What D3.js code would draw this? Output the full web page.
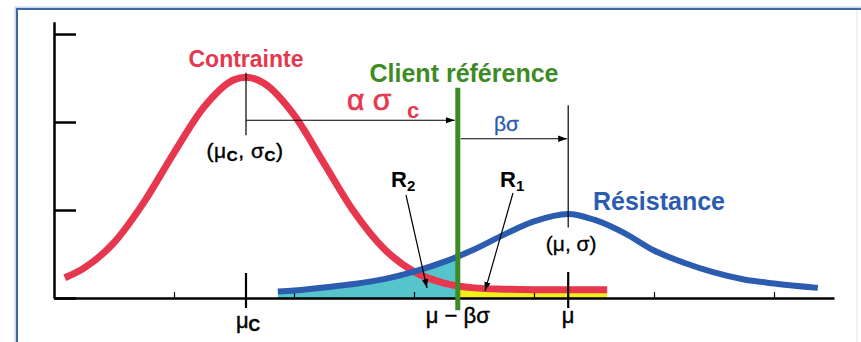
<!DOCTYPE html>
<html>
<head>
<meta charset="utf-8">
<script src="https://cdn.jsdelivr.net/npm/d3@7"></script>
<style>
  body { margin: 0; background: #fff; }
  svg { display: block; font-family: "Liberation Sans", Arial, sans-serif; }
</style>
</head>
<body>
<svg id="chart" width="861" height="342"></svg>
<script>
// curves (x: stress/strength units, y: density units)
const contrainteX = [0.18, 0.5, 1.0, 1.5, 2.0, 2.5, 3.0, 3.2, 3.5, 4.0, 4.5, 5.0, 5.5, 6.0, 6.5, 7.0, 7.5, 8.0, 8.5, 9.22];
const contrainteY = [0.23, 0.34, 0.63, 1.09, 1.65, 2.17, 2.48, 2.51, 2.44, 2.08, 1.53, 0.98, 0.56, 0.30, 0.17, 0.115, 0.10, 0.095, 0.095, 0.095];
const resistanceX = [3.73, 4.0, 4.5, 5.0, 5.5, 6.0, 6.5, 7.0, 7.5, 8.0, 8.57, 9.0, 9.5, 10.0, 10.5, 11.0, 11.5, 12.0, 12.73];
const resistanceY = [0.075, 0.085, 0.12, 0.16, 0.215, 0.30, 0.41, 0.55, 0.72, 0.87, 0.955, 0.89, 0.74, 0.54, 0.40, 0.29, 0.21, 0.165, 0.115];

const muC = 3.2;     // moyenne contrainte
const ref = 6.73;    // client référence (mu - beta sigma)
const mu = 8.57;     // moyenne résistance
const minorTicks = [2, 4, 6, 8, 10, 12];
const yTicks = [0, 1, 2, 3];

const red = "#e6374f", blue = "#2b5cb0", green = "#3d8b25", cyan = "#55c4cb", yellow = "#f4ee1a";

const svg = d3.select("#chart");
const x = d3.scaleLinear([0, 13], [54, 834]);
const y = d3.scaleLinear([0, 3.14], [298, 21.7]);

const contrainte = contrainteX.map((v, i) => [v, contrainteY[i]]);
const resistance = resistanceX.map((v, i) => [v, resistanceY[i]]);

// frame
svg.append("rect").attr("x", 17).attr("y", 9).attr("width", 900).attr("height", 400)
    .attr("fill", "none").attr("stroke", "#c9d8ee").attr("stroke-width", 5);
svg.append("rect").attr("x", 17).attr("y", 9).attr("width", 900).attr("height", 400)
    .attr("fill", "#fff").attr("stroke", "#3f6aa6").attr("stroke-width", 2);
svg.append("line").attr("x1", 857).attr("x2", 857).attr("y1", 10).attr("y2", 342)
    .attr("stroke", "#e2e6ee").attr("stroke-width", 1);

const defs = svg.append("defs");
defs.append("marker").attr("id", "arrow").attr("viewBox", "0 0 10 10")
    .attr("refX", 10).attr("refY", 5).attr("markerWidth", 9).attr("markerHeight", 9)
    .attr("markerUnits", "userSpaceOnUse").attr("orient", "auto")
    .append("path").attr("d", "M0,1.5L10,5L0,8.5Z").attr("fill", "#000");
defs.append("clipPath").attr("id", "clipR2").append("rect")
    .attr("x", x(resistanceX[0])).attr("y", 0).attr("width", x(ref) - x(resistanceX[0])).attr("height", 342);
defs.append("clipPath").attr("id", "clipR1").append("rect")
    .attr("x", x(ref)).attr("y", 0).attr("width", x(9.22) - x(ref)).attr("height", 342);

const curve = d3.curveMonotoneX;
const area = d3.area().x(d => x(d[0])).y0(y(0)).y1(d => y(d[1])).curve(curve);
const line = d3.line().x(d => x(d[0])).y(d => y(d[1])).curve(curve);

// filled regions R2 (cyan) and R1 (yellow)
svg.append("path").datum(resistance).attr("d", area).attr("fill", cyan).attr("clip-path", "url(#clipR2)");
svg.append("path").datum(contrainte).attr("d", area).attr("fill", yellow).attr("clip-path", "url(#clipR1)");

// axes
const xAxis = svg.append("g").attr("transform", `translate(0,${y(0)})`)
    .call(d3.axisBottom(x).tickValues(minorTicks).tickSizeInner(-6).tickSizeOuter(0).tickFormat(""));
xAxis.select(".domain").attr("stroke-width", 2.5);
xAxis.selectAll(".tick line").attr("stroke-width", 1.2);

const yAxis = svg.append("g").attr("transform", `translate(${x(0)},0)`)
    .call(d3.axisLeft(y).tickValues(yTicks).tickSizeInner(-22).tickSizeOuter(0).tickFormat(""));
yAxis.select(".domain").attr("stroke-width", 2.5);
yAxis.selectAll(".tick line").attr("stroke-width", 2.5);

// curves
svg.append("path").datum(contrainte).attr("d", line).attr("fill", "none")
    .attr("stroke", red).attr("stroke-width", 7);
svg.append("path").datum(resistance).attr("d", line).attr("fill", "none")
    .attr("stroke", blue).attr("stroke-width", 6);

// major ticks
[[muC, 273, 308], [mu, 272, 308]].forEach(([v, a, b]) => {
  svg.append("line").attr("x1", x(v)).attr("x2", x(v)).attr("y1", a).attr("y2", b)
      .attr("stroke", "#000").attr("stroke-width", 2.2);
});

// client référence line
svg.append("line").attr("x1", x(ref)).attr("x2", x(ref)).attr("y1", y(2.39)).attr("y2", y(-0.14))
    .attr("stroke", green).attr("stroke-width", 5);

// annotation lines
const thin = (x1, y1, x2, y2, arrow) => {
  const l = svg.append("line").attr("x1", x1).attr("y1", y1).attr("x2", x2).attr("y2", y2)
      .attr("stroke", "#000").attr("stroke-width", 1.2);
  if (arrow) l.attr("marker-end", "url(#arrow)");
};
thin(x(muC), y(2.56), x(muC), y(1.85), false);
thin(x(muC), y(2.02), x(ref) - 3, y(2.02), true);
thin(x(mu), y(2.19), x(mu), y(0.80), false);
thin(x(ref) + 3, y(1.81), x(mu) - 1, y(1.81), true);
thin(406, 195, 427, 288, true);
thin(513, 193, 485, 291, true);

// texts
const txt = (t, px, py, size, color, weight, anchor) => svg.append("text")
    .attr("x", px).attr("y", py).attr("font-size", size).attr("fill", color)
    .attr("font-weight", weight || "normal").attr("text-anchor", anchor || "start").text(t);

txt("Contrainte", x(muC), 67, 23, red, "bold", "middle");
txt("Client référence", 464, 82, 25, green, "bold", "middle");
txt("Résistance", 593, 210, 25, blue, "bold");
txt("α σ", 347, 110, 30, red).attr("stroke", red).attr("stroke-width", 0.7);
txt("c", 407, 118, 22, red, "bold");
txt("βσ", 494, 131, 21, blue).attr("stroke", blue).attr("stroke-width", 0.3);

// (μc, σc)
const t1 = svg.append("text").attr("x", 245).attr("y", 158).attr("font-size", 21)
    .attr("text-anchor", "middle").attr("stroke", "#000").attr("stroke-width", 0.4).attr("letter-spacing", 0.6);
t1.append("tspan").text("(μ");
t1.append("tspan").text("C").attr("font-size", 15).attr("font-weight", "bold").attr("dy", 3);
t1.append("tspan").text(", σ").attr("dy", -3);
t1.append("tspan").text("C").attr("font-size", 15).attr("font-weight", "bold").attr("dy", 3);
t1.append("tspan").text(")").attr("dy", -3);

txt("(μ, σ)", x(mu) + 3, 251, 21, "#000", "normal", "middle").attr("stroke", "#000").attr("stroke-width", 0.3);

const r2 = svg.append("text").attr("x", 391).attr("y", 187).attr("font-size", 22).attr("font-weight", "bold");
r2.append("tspan").text("R");
r2.append("tspan").text("2").attr("font-size", 15).attr("dy", 4);
const r1 = svg.append("text").attr("x", 500).attr("y", 187).attr("font-size", 22).attr("font-weight", "bold");
r1.append("tspan").text("R");
r1.append("tspan").text("1").attr("font-size", 15).attr("dy", 4);

// x labels
const lc = svg.append("text").attr("x", x(muC) + 2).attr("y", 328).attr("font-size", 22)
    .attr("text-anchor", "middle").attr("stroke", "#000").attr("stroke-width", 0.4);
lc.append("tspan").text("μ");
lc.append("tspan").text("C").attr("font-size", 16).attr("font-weight", "bold").attr("dy", 3);
txt("μ − βσ", x(ref), 323, 22, "#000", "normal", "middle").attr("stroke", "#000").attr("stroke-width", 0.4);
txt("μ", x(mu), 323, 22, "#000", "normal", "middle").attr("stroke", "#000").attr("stroke-width", 0.4);
</script>
</body>
</html>
